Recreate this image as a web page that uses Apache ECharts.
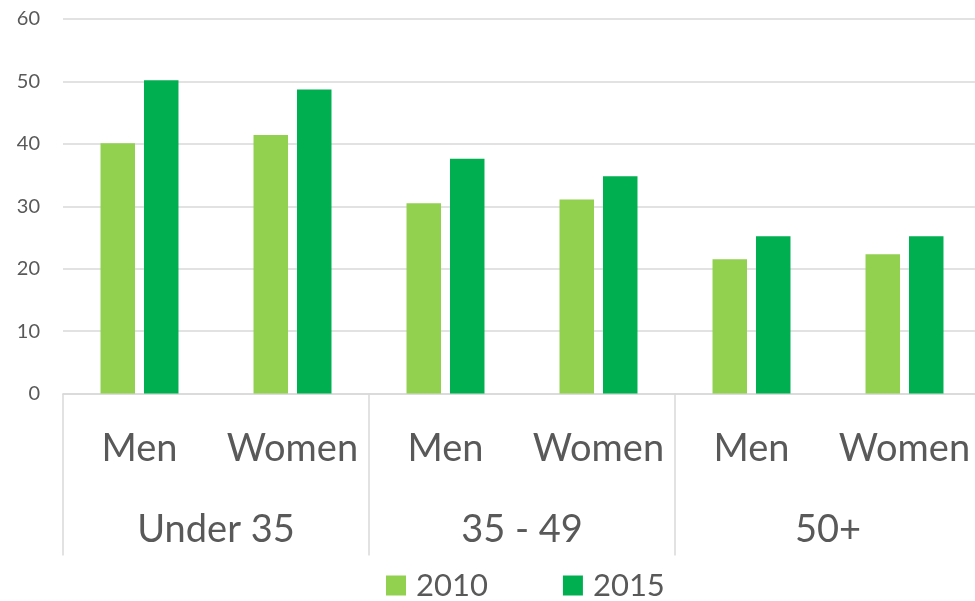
<!DOCTYPE html>
<html>
<head>
<meta charset="utf-8">
<script src="https://cdn.jsdelivr.net/npm/echarts@6/dist/echarts.min.js"></script>
<style>html,body{margin:0;padding:0;background:#fff}#c{width:975px;height:601px}</style>
</head>
<body>
<div id="c"></div>
<script>
const categories = ['Men', 'Women', 'Men', 'Women', 'Men', 'Women'];
const groups = ['Under 35', '35 - 49', '50+'];
const seriesNames = ['2010', '2015'];
const values2010 = [40.1, 41.4, 30.5, 31.1, 21.5, 22.3];
const values2015 = [50.2, 48.7, 37.6, 34.8, 25.2, 25.2];
const yTicks = [0, 10, 20, 30, 40, 50, 60];

const FONT = 'Lato';
const TXT = '#595959';
const GRID = '#d9d9d9';

const chart = echarts.init(document.getElementById('c'), null, {renderer: 'canvas'});
chart.setOption({
  animation: false,
  textStyle: {fontFamily: FONT},
  grid: {left: 63, top: 19, width: 918, bottom: 207.5, containLabel: false, outerBoundsMode: 'none'},
  legend: {
    data: seriesNames,
    left: 386, top: 570, padding: 0,
    itemWidth: 20, itemHeight: 20, itemGap: 75,
    icon: 'rect',
    textStyle: {fontFamily: FONT, fontSize: 31, color: TXT, padding: [0, 0, 0, 5]}
  },
  xAxis: [
    {
      type: 'category', data: categories, position: 'bottom',
      axisLine: {show: true, lineStyle: {color: GRID, width: 1.5}},
      axisTick: {show: false},
      axisLabel: {interval: 0, fontFamily: FONT, fontSize: 38, color: TXT, margin: 36}
    },
    {
      type: 'category', data: groups, position: 'bottom',
      axisLine: {show: false},
      axisTick: {show: true, length: 162, interval: 0, lineStyle: {color: GRID, width: 1.5}},
      axisLabel: {interval: 0, fontFamily: FONT, fontSize: 38, color: TXT, margin: 117}
    }
  ],
  yAxis: {
    type: 'value', min: yTicks[0], max: yTicks[yTicks.length - 1], interval: 10,
    axisLine: {show: false}, axisTick: {show: false},
    axisLabel: {fontFamily: FONT, fontSize: 20, color: TXT, margin: 23},
    splitLine: {show: true, lineStyle: {color: GRID, width: 1.5}}
  },
  series: [
    {name: seriesNames[0], type: 'bar', xAxisIndex: 0, data: values2010,
     barWidth: 34.5, barGap: '26%', itemStyle: {color: '#92D050'}},
    {name: seriesNames[1], type: 'bar', xAxisIndex: 0, data: values2015,
     barWidth: 34.5, barGap: '26%', itemStyle: {color: '#00B050'}}
  ]
});
</script>
</body>
</html>
